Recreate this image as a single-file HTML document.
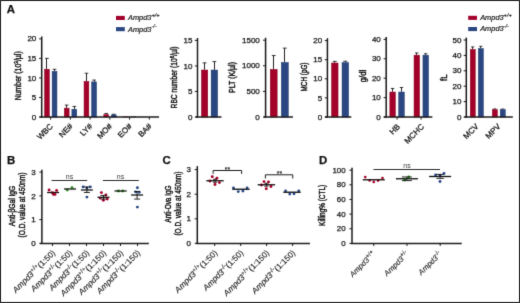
<!DOCTYPE html>
<html><head><meta charset="utf-8"><style>
html,body{margin:0;padding:0;background:#fff;}
svg{display:block;font-family:"Liberation Sans", sans-serif;will-change:transform;}
text{stroke:#111;stroke-width:0.25px;}
text.thin{stroke-width:0.1px;}
text.leg{stroke-width:0.18px;}
text.yl{stroke-width:0.42px;}
text.ns{stroke-width:0;fill:#3a3a3a;}
</style></head><body>
<svg width="520" height="303" viewBox="0 0 520 303" font-family='"Liberation Sans", sans-serif' fill="#111">
<defs><filter id="soft" x="0" y="0" width="520" height="303" filterUnits="userSpaceOnUse"><feConvolveMatrix order="3" kernelMatrix="0.0113 0.0838 0.0113 0.0838 0.6193 0.0838 0.0113 0.0838 0.0113" edgeMode="none"/></filter></defs>
<g filter="url(#soft)">
<rect x="0.5" y="0.5" width="519" height="302" fill="none" stroke="#000" stroke-width="1"/>
<text x="6.70" y="12.70" font-size="11.4" text-anchor="start" font-weight="bold" font-style="normal" >A</text>
<text x="7.10" y="164.00" font-size="11.4" text-anchor="start" font-weight="bold" font-style="normal" >B</text>
<text x="162.50" y="164.10" font-size="11.4" text-anchor="start" font-weight="bold" font-style="normal" >C</text>
<text x="318.90" y="164.00" font-size="11.4" text-anchor="start" font-weight="bold" font-style="normal" >D</text>
<rect x="116.00" y="15.90" width="8.80" height="4.10" fill="#a3002a"/>
<rect x="116.00" y="27.10" width="8.80" height="4.10" fill="#2a4782"/>
<text class="leg" x="128.00" y="20.30" font-size="7.4" font-style="italic">Ampd3<tspan font-size="5.6" dy="-3.3">+/+</tspan></text>
<text class="leg" x="128.00" y="31.50" font-size="7.4" font-style="italic">Ampd3<tspan font-size="5.6" dy="-3.3">-/-</tspan></text>
<rect x="468.20" y="15.80" width="8.80" height="4.10" fill="#a3002a"/>
<rect x="468.20" y="27.00" width="8.80" height="4.10" fill="#2a4782"/>
<text class="leg" x="480.20" y="20.20" font-size="7.4" font-style="italic">Ampd3<tspan font-size="5.6" dy="-3.3">+/+</tspan></text>
<text class="leg" x="480.20" y="31.40" font-size="7.4" font-style="italic">Ampd3<tspan font-size="5.6" dy="-3.3">-/-</tspan></text>
<line x1="46.50" y1="58.39" x2="46.50" y2="68.94" stroke="#1e1e1e" stroke-width="0.95"/>
<line x1="45.15" y1="58.39" x2="48.75" y2="58.39" stroke="#1e1e1e" stroke-width="0.9"/>
<rect x="44.55" y="69.19" width="4.80" height="47.81" fill="#a3002a" stroke="#860020" stroke-width="0.5"/>
<line x1="54.50" y1="69.33" x2="54.50" y2="71.09" stroke="#1e1e1e" stroke-width="0.95"/>
<line x1="52.75" y1="69.33" x2="56.35" y2="69.33" stroke="#1e1e1e" stroke-width="0.9"/>
<rect x="52.15" y="71.34" width="4.80" height="45.66" fill="#2a4782" stroke="#1b3366" stroke-width="0.5"/>
<line x1="66.50" y1="105.08" x2="66.50" y2="107.90" stroke="#1e1e1e" stroke-width="0.95"/>
<line x1="64.90" y1="105.08" x2="68.50" y2="105.08" stroke="#1e1e1e" stroke-width="0.9"/>
<rect x="64.30" y="108.15" width="4.80" height="8.85" fill="#a3002a" stroke="#860020" stroke-width="0.5"/>
<line x1="74.50" y1="106.45" x2="74.50" y2="108.99" stroke="#1e1e1e" stroke-width="0.95"/>
<line x1="72.50" y1="106.45" x2="76.10" y2="106.45" stroke="#1e1e1e" stroke-width="0.9"/>
<rect x="71.90" y="109.24" width="4.80" height="7.76" fill="#2a4782" stroke="#1b3366" stroke-width="0.5"/>
<line x1="86.50" y1="73.24" x2="86.50" y2="81.05" stroke="#1e1e1e" stroke-width="0.95"/>
<line x1="84.65" y1="73.24" x2="88.25" y2="73.24" stroke="#1e1e1e" stroke-width="0.9"/>
<rect x="84.05" y="81.30" width="4.80" height="35.70" fill="#a3002a" stroke="#860020" stroke-width="0.5"/>
<line x1="94.50" y1="80.07" x2="94.50" y2="81.64" stroke="#1e1e1e" stroke-width="0.95"/>
<line x1="92.25" y1="80.07" x2="95.85" y2="80.07" stroke="#1e1e1e" stroke-width="0.9"/>
<rect x="91.65" y="81.89" width="4.80" height="35.11" fill="#2a4782" stroke="#1b3366" stroke-width="0.5"/>
<line x1="106.50" y1="113.48" x2="106.50" y2="114.46" stroke="#1e1e1e" stroke-width="0.95"/>
<line x1="104.40" y1="113.48" x2="108.00" y2="113.48" stroke="#1e1e1e" stroke-width="0.9"/>
<rect x="103.80" y="114.71" width="4.80" height="2.29" fill="#a3002a" stroke="#860020" stroke-width="0.5"/>
<line x1="113.50" y1="114.26" x2="113.50" y2="114.66" stroke="#1e1e1e" stroke-width="0.95"/>
<line x1="112.00" y1="114.26" x2="115.60" y2="114.26" stroke="#1e1e1e" stroke-width="0.9"/>
<rect x="111.40" y="114.91" width="4.80" height="2.09" fill="#2a4782" stroke="#1b3366" stroke-width="0.5"/>
<rect x="123.55" y="116.86" width="4.80" height="0.14" fill="#a3002a" stroke="#860020" stroke-width="0.5"/>
<rect x="131.15" y="116.86" width="4.80" height="0.14" fill="#2a4782" stroke="#1b3366" stroke-width="0.5"/>
<rect x="143.30" y="117.05" width="4.80" height="-0.05" fill="#a3002a" stroke="#860020" stroke-width="0.5"/>
<rect x="150.90" y="117.05" width="4.80" height="-0.05" fill="#2a4782" stroke="#1b3366" stroke-width="0.5"/>
<text transform="translate(53.40,126.90) rotate(-45)" font-size="8.0" text-anchor="end">WBC</text>
<text transform="translate(73.15,126.90) rotate(-45)" font-size="8.0" text-anchor="end">NE#</text>
<text transform="translate(92.90,126.90) rotate(-45)" font-size="8.0" text-anchor="end">LY#</text>
<text transform="translate(112.65,126.90) rotate(-45)" font-size="8.0" text-anchor="end">MO#</text>
<text transform="translate(132.40,126.90) rotate(-45)" font-size="8.0" text-anchor="end">EO#</text>
<text transform="translate(152.15,126.90) rotate(-45)" font-size="8.0" text-anchor="end">BA#</text>
<text class="yl" transform="translate(21.00,75.80) rotate(-90)" font-size="8.9" text-anchor="middle" textLength="49" lengthAdjust="spacingAndGlyphs" >Number (10<tspan font-size='6' dy='-3'>3</tspan><tspan dy='3'>/µl)</tspan></text>
<line x1="204.50" y1="62.87" x2="204.50" y2="69.76" stroke="#1e1e1e" stroke-width="0.95"/>
<line x1="202.70" y1="62.87" x2="206.50" y2="62.87" stroke="#1e1e1e" stroke-width="0.9"/>
<rect x="201.45" y="70.01" width="6.30" height="46.99" fill="#a3002a" stroke="#860020" stroke-width="0.5"/>
<line x1="214.50" y1="61.59" x2="214.50" y2="69.76" stroke="#1e1e1e" stroke-width="0.95"/>
<line x1="212.45" y1="61.59" x2="216.25" y2="61.59" stroke="#1e1e1e" stroke-width="0.9"/>
<rect x="211.15" y="70.01" width="6.40" height="46.99" fill="#2a4782" stroke="#1b3366" stroke-width="0.5"/>
<text class="yl" transform="translate(176.60,77.40) rotate(-90)" font-size="8.9" text-anchor="middle" textLength="62" lengthAdjust="spacingAndGlyphs" >RBC number (10<tspan font-size='6' dy='-3'>6</tspan><tspan dy='3'>/µl)</tspan></text>
<line x1="273.50" y1="55.56" x2="273.50" y2="69.13" stroke="#1e1e1e" stroke-width="0.95"/>
<line x1="271.80" y1="55.56" x2="275.60" y2="55.56" stroke="#1e1e1e" stroke-width="0.9"/>
<rect x="270.25" y="69.38" width="6.90" height="47.62" fill="#a3002a" stroke="#860020" stroke-width="0.5"/>
<line x1="284.50" y1="48.14" x2="284.50" y2="62.22" stroke="#1e1e1e" stroke-width="0.95"/>
<line x1="282.90" y1="48.14" x2="286.70" y2="48.14" stroke="#1e1e1e" stroke-width="0.9"/>
<rect x="281.35" y="62.47" width="6.90" height="54.53" fill="#2a4782" stroke="#1b3366" stroke-width="0.5"/>
<text class="yl" transform="translate(235.20,77.50) rotate(-90)" font-size="8.9" text-anchor="middle" textLength="31" lengthAdjust="spacingAndGlyphs" >PLT (K/µl)</text>
<line x1="334.50" y1="61.42" x2="334.50" y2="62.76" stroke="#1e1e1e" stroke-width="0.95"/>
<line x1="332.90" y1="61.42" x2="336.70" y2="61.42" stroke="#1e1e1e" stroke-width="0.9"/>
<rect x="331.55" y="63.01" width="6.50" height="53.99" fill="#a3002a" stroke="#860020" stroke-width="0.5"/>
<line x1="345.50" y1="61.23" x2="345.50" y2="62.37" stroke="#1e1e1e" stroke-width="0.95"/>
<line x1="343.40" y1="61.23" x2="347.20" y2="61.23" stroke="#1e1e1e" stroke-width="0.9"/>
<rect x="342.05" y="62.62" width="6.50" height="54.38" fill="#2a4782" stroke="#1b3366" stroke-width="0.5"/>
<text class="yl" transform="translate(306.80,77.00) rotate(-90)" font-size="8.9" text-anchor="middle" textLength="29" lengthAdjust="spacingAndGlyphs" >MCH (pG)</text>
<line x1="392.50" y1="88.48" x2="392.50" y2="91.78" stroke="#1e1e1e" stroke-width="0.95"/>
<line x1="390.90" y1="88.48" x2="394.30" y2="88.48" stroke="#1e1e1e" stroke-width="0.9"/>
<rect x="389.85" y="92.03" width="5.50" height="24.97" fill="#a3002a" stroke="#860020" stroke-width="0.5"/>
<line x1="401.50" y1="87.51" x2="401.50" y2="91.78" stroke="#1e1e1e" stroke-width="0.95"/>
<line x1="399.80" y1="87.51" x2="403.20" y2="87.51" stroke="#1e1e1e" stroke-width="0.9"/>
<rect x="398.75" y="92.03" width="5.50" height="24.97" fill="#2a4782" stroke="#1b3366" stroke-width="0.5"/>
<line x1="416.50" y1="52.98" x2="416.50" y2="54.92" stroke="#1e1e1e" stroke-width="0.95"/>
<line x1="415.10" y1="52.98" x2="418.50" y2="52.98" stroke="#1e1e1e" stroke-width="0.9"/>
<rect x="414.05" y="55.17" width="5.50" height="61.83" fill="#a3002a" stroke="#860020" stroke-width="0.5"/>
<line x1="425.50" y1="53.76" x2="425.50" y2="54.92" stroke="#1e1e1e" stroke-width="0.95"/>
<line x1="424.00" y1="53.76" x2="427.40" y2="53.76" stroke="#1e1e1e" stroke-width="0.9"/>
<rect x="422.95" y="55.17" width="5.50" height="61.83" fill="#2a4782" stroke="#1b3366" stroke-width="0.5"/>
<text transform="translate(400.60,127.20) rotate(-45)" font-size="8.0" text-anchor="end">HB</text>
<text transform="translate(424.60,127.20) rotate(-45)" font-size="8.0" text-anchor="end">MCHC</text>
<text class="yl" transform="translate(366.00,76.00) rotate(-90)" font-size="8.9" text-anchor="middle" textLength="12.5" lengthAdjust="spacingAndGlyphs" >g/dl</text>
<line x1="472.50" y1="46.93" x2="472.50" y2="49.24" stroke="#1e1e1e" stroke-width="0.95"/>
<line x1="471.15" y1="46.93" x2="474.35" y2="46.93" stroke="#1e1e1e" stroke-width="0.9"/>
<rect x="470.25" y="49.49" width="5.00" height="67.51" fill="#a3002a" stroke="#860020" stroke-width="0.5"/>
<line x1="480.50" y1="46.31" x2="480.50" y2="48.32" stroke="#1e1e1e" stroke-width="0.95"/>
<line x1="479.25" y1="46.31" x2="482.45" y2="46.31" stroke="#1e1e1e" stroke-width="0.9"/>
<rect x="478.35" y="48.57" width="5.00" height="68.43" fill="#2a4782" stroke="#1b3366" stroke-width="0.5"/>
<line x1="494.50" y1="108.91" x2="494.50" y2="109.45" stroke="#1e1e1e" stroke-width="0.95"/>
<line x1="493.25" y1="108.91" x2="496.45" y2="108.91" stroke="#1e1e1e" stroke-width="0.9"/>
<rect x="492.35" y="109.70" width="5.00" height="7.30" fill="#a3002a" stroke="#860020" stroke-width="0.5"/>
<line x1="502.50" y1="109.07" x2="502.50" y2="109.45" stroke="#1e1e1e" stroke-width="0.95"/>
<line x1="501.15" y1="109.07" x2="504.35" y2="109.07" stroke="#1e1e1e" stroke-width="0.9"/>
<rect x="500.25" y="109.70" width="5.00" height="7.30" fill="#2a4782" stroke="#1b3366" stroke-width="0.5"/>
<text transform="translate(479.00,126.90) rotate(-45)" font-size="8.0" text-anchor="end">MCV</text>
<text transform="translate(501.00,126.90) rotate(-45)" font-size="8.0" text-anchor="end">MPV</text>
<text class="yl" transform="translate(446.90,77.60) rotate(-90)" font-size="8.9" text-anchor="middle" textLength="6.6" lengthAdjust="spacingAndGlyphs" >fL</text>
<text class="yl" transform="translate(15.20,206.00) rotate(-90)" font-size="8.9" text-anchor="middle" textLength="40.5" lengthAdjust="spacingAndGlyphs" >Anti-βGal IgG</text>
<text class="yl" transform="translate(25.40,205.00) rotate(-90)" font-size="8.9" text-anchor="middle" textLength="65" lengthAdjust="spacingAndGlyphs" >(O.D. value at 450nm)</text>
<line x1="51.60" y1="180.50" x2="87.20" y2="180.50" stroke="#2a2a2a" stroke-width="1.0"/>
<text x="69.50" y="179.00" font-size="7.0" text-anchor="middle" font-weight="normal" font-style="normal" class="ns">ns</text>
<line x1="102.90" y1="180.50" x2="138.80" y2="180.50" stroke="#2a2a2a" stroke-width="1.0"/>
<text x="120.50" y="179.00" font-size="7.0" text-anchor="middle" font-weight="normal" font-style="normal" class="ns">ns</text>
<circle cx="49.10" cy="190.00" r="1.45" fill="#a3002a"/>
<circle cx="53.50" cy="194.40" r="1.45" fill="#a3002a"/>
<circle cx="55.00" cy="194.40" r="1.45" fill="#a3002a"/>
<circle cx="56.60" cy="190.40" r="1.45" fill="#a3002a"/>
<circle cx="52.30" cy="192.80" r="1.45" fill="#a3002a"/>
<line x1="47.10" y1="192.50" x2="59.10" y2="192.50" stroke="#111" stroke-width="1.3"/>
<circle cx="67.30" cy="190.00" r="1.45" fill="#2c8a1c"/>
<circle cx="72.00" cy="187.60" r="1.45" fill="#2c8a1c"/>
<line x1="64.00" y1="189.00" x2="76.00" y2="189.00" stroke="#111" stroke-width="1.3"/>
<circle cx="83.10" cy="186.90" r="1.45" fill="#2a4782"/>
<circle cx="86.90" cy="188.10" r="1.45" fill="#2a4782"/>
<circle cx="90.30" cy="186.90" r="1.45" fill="#2a4782"/>
<circle cx="86.90" cy="197.10" r="1.45" fill="#2a4782"/>
<line x1="80.90" y1="190.00" x2="92.90" y2="190.00" stroke="#111" stroke-width="1.3"/>
<line x1="86.90" y1="186.90" x2="86.90" y2="192.50" stroke="#111" stroke-width="0.9"/>
<line x1="83.90" y1="186.90" x2="89.90" y2="186.90" stroke="#111" stroke-width="0.9"/>
<line x1="83.90" y1="192.50" x2="89.90" y2="192.50" stroke="#111" stroke-width="0.9"/>
<circle cx="101.40" cy="192.60" r="1.45" fill="#a3002a"/>
<circle cx="105.90" cy="195.00" r="1.45" fill="#a3002a"/>
<circle cx="100.10" cy="198.10" r="1.45" fill="#a3002a"/>
<circle cx="103.40" cy="200.20" r="1.45" fill="#a3002a"/>
<circle cx="107.30" cy="199.10" r="1.45" fill="#a3002a"/>
<line x1="97.50" y1="197.30" x2="109.50" y2="197.30" stroke="#111" stroke-width="1.3"/>
<line x1="103.50" y1="195.40" x2="103.50" y2="199.10" stroke="#111" stroke-width="0.9"/>
<line x1="100.50" y1="195.40" x2="106.50" y2="195.40" stroke="#111" stroke-width="0.9"/>
<line x1="100.50" y1="199.10" x2="106.50" y2="199.10" stroke="#111" stroke-width="0.9"/>
<circle cx="118.40" cy="191.00" r="1.45" fill="#2c8a1c"/>
<circle cx="122.60" cy="191.00" r="1.45" fill="#2c8a1c"/>
<line x1="114.60" y1="191.00" x2="126.60" y2="191.00" stroke="#111" stroke-width="1.3"/>
<circle cx="137.40" cy="187.70" r="1.45" fill="#2a4782"/>
<circle cx="135.70" cy="191.90" r="1.45" fill="#2a4782"/>
<circle cx="139.20" cy="192.20" r="1.45" fill="#2a4782"/>
<circle cx="137.40" cy="207.10" r="1.45" fill="#2a4782"/>
<line x1="131.10" y1="195.00" x2="143.10" y2="195.00" stroke="#111" stroke-width="1.3"/>
<line x1="137.10" y1="191.50" x2="137.10" y2="199.10" stroke="#111" stroke-width="0.9"/>
<line x1="134.10" y1="191.50" x2="140.10" y2="191.50" stroke="#111" stroke-width="0.9"/>
<line x1="134.10" y1="199.10" x2="140.10" y2="199.10" stroke="#111" stroke-width="0.9"/>
<text class="thin" transform="translate(55.80,253.40) rotate(-45)" font-size="8.2" text-anchor="end"><tspan font-style="italic">Ampd3</tspan><tspan font-size="6.2" dy="-3.1">+/+</tspan><tspan dy="3.1">(1:50)</tspan></text>
<text class="thin" transform="translate(72.80,253.40) rotate(-45)" font-size="8.2" text-anchor="end"><tspan font-style="italic">Ampd3</tspan><tspan font-size="6.2" dy="-3.1">+/-</tspan><tspan dy="3.1">(1:50)</tspan></text>
<text class="thin" transform="translate(89.80,253.40) rotate(-45)" font-size="8.2" text-anchor="end"><tspan font-style="italic">Ampd3</tspan><tspan font-size="6.2" dy="-3.1">-/-</tspan><tspan dy="3.1">(1:50)</tspan></text>
<text class="thin" transform="translate(106.80,253.40) rotate(-45)" font-size="8.2" text-anchor="end"><tspan font-style="italic">Ampd3</tspan><tspan font-size="6.2" dy="-3.1">+/+</tspan><tspan dy="3.1">(1:150)</tspan></text>
<text class="thin" transform="translate(123.80,253.40) rotate(-45)" font-size="8.2" text-anchor="end"><tspan font-style="italic">Ampd3</tspan><tspan font-size="6.2" dy="-3.1">+/-</tspan><tspan dy="3.1">(1:150)</tspan></text>
<text class="thin" transform="translate(140.80,253.40) rotate(-45)" font-size="8.2" text-anchor="end"><tspan font-style="italic">Ampd3</tspan><tspan font-size="6.2" dy="-3.1">-/-</tspan><tspan dy="3.1">(1:150)</tspan></text>
<text class="yl" transform="translate(170.60,204.00) rotate(-90)" font-size="8.9" text-anchor="middle" textLength="37" lengthAdjust="spacingAndGlyphs" >Anti-Ova IgG</text>
<text class="yl" transform="translate(180.80,203.60) rotate(-90)" font-size="8.9" text-anchor="middle" textLength="64" lengthAdjust="spacingAndGlyphs" >(O.D. value at 450nm)</text>
<polyline points="213.1,173.9 213.1,170.5 241.6,170.5 241.6,173.9" fill="none" stroke="#222" stroke-width="1"/>
<text x="227.40" y="171.60" font-size="6.8" text-anchor="middle" font-weight="normal" font-style="normal" class="thin">**</text>
<polyline points="265.4,178.5 265.4,174.8 292.75,174.8 292.75,178.5" fill="none" stroke="#222" stroke-width="1"/>
<text x="279.40" y="175.90" font-size="6.8" text-anchor="middle" font-weight="normal" font-style="normal" class="thin">**</text>
<circle cx="212.25" cy="176.75" r="1.45" fill="#a3002a"/>
<circle cx="216.90" cy="178.25" r="1.45" fill="#a3002a"/>
<circle cx="210.00" cy="181.00" r="1.45" fill="#a3002a"/>
<circle cx="219.40" cy="182.60" r="1.45" fill="#a3002a"/>
<circle cx="215.00" cy="184.50" r="1.45" fill="#a3002a"/>
<line x1="206.30" y1="180.75" x2="223.70" y2="180.75" stroke="#111" stroke-width="1.3"/>
<line x1="215.00" y1="179.30" x2="215.00" y2="182.30" stroke="#111" stroke-width="0.9"/>
<line x1="213.00" y1="179.30" x2="217.00" y2="179.30" stroke="#111" stroke-width="0.9"/>
<line x1="213.00" y1="182.30" x2="217.00" y2="182.30" stroke="#111" stroke-width="0.9"/>
<circle cx="233.50" cy="187.90" r="1.45" fill="#2a4782"/>
<circle cx="238.25" cy="191.60" r="1.45" fill="#2a4782"/>
<circle cx="242.90" cy="191.00" r="1.45" fill="#2a4782"/>
<circle cx="247.10" cy="187.90" r="1.45" fill="#2a4782"/>
<line x1="232.30" y1="189.25" x2="249.70" y2="189.25" stroke="#111" stroke-width="1.3"/>
<circle cx="264.00" cy="181.60" r="1.45" fill="#a3002a"/>
<circle cx="268.50" cy="181.90" r="1.45" fill="#a3002a"/>
<circle cx="261.50" cy="185.00" r="1.45" fill="#a3002a"/>
<circle cx="271.00" cy="186.50" r="1.45" fill="#a3002a"/>
<circle cx="266.25" cy="188.75" r="1.45" fill="#a3002a"/>
<line x1="257.70" y1="184.75" x2="275.10" y2="184.75" stroke="#111" stroke-width="1.3"/>
<line x1="266.40" y1="183.30" x2="266.40" y2="186.20" stroke="#111" stroke-width="0.9"/>
<line x1="264.40" y1="183.30" x2="268.40" y2="183.30" stroke="#111" stroke-width="0.9"/>
<line x1="264.40" y1="186.20" x2="268.40" y2="186.20" stroke="#111" stroke-width="0.9"/>
<circle cx="285.60" cy="191.00" r="1.45" fill="#2a4782"/>
<circle cx="289.75" cy="194.10" r="1.45" fill="#2a4782"/>
<circle cx="294.00" cy="193.75" r="1.45" fill="#2a4782"/>
<circle cx="298.75" cy="191.00" r="1.45" fill="#2a4782"/>
<line x1="283.30" y1="192.25" x2="300.70" y2="192.25" stroke="#111" stroke-width="1.3"/>
<text class="thin" transform="translate(217.90,253.40) rotate(-45)" font-size="8.2" text-anchor="end"><tspan font-style="italic">Ampd3</tspan><tspan font-size="6.2" dy="-3.1">+/+</tspan><tspan dy="3.1">(1:50)</tspan></text>
<text class="thin" transform="translate(243.90,253.40) rotate(-45)" font-size="8.2" text-anchor="end"><tspan font-style="italic">Ampd3</tspan><tspan font-size="6.2" dy="-3.1">-/-</tspan><tspan dy="3.1">(1:50)</tspan></text>
<text class="thin" transform="translate(269.80,253.40) rotate(-45)" font-size="8.2" text-anchor="end"><tspan font-style="italic">Ampd3</tspan><tspan font-size="6.2" dy="-3.1">+/+</tspan><tspan dy="3.1">(1:150)</tspan></text>
<text class="thin" transform="translate(295.80,253.40) rotate(-45)" font-size="8.2" text-anchor="end"><tspan font-style="italic">Ampd3</tspan><tspan font-size="6.2" dy="-3.1">-/-</tspan><tspan dy="3.1">(1:150)</tspan></text>
<text class="yl" transform="translate(325.00,205.40) rotate(-90)" font-size="8.9" text-anchor="middle" textLength="41" lengthAdjust="spacingAndGlyphs" >Killing% (CTL)</text>
<line x1="373.50" y1="169.50" x2="440.00" y2="169.50" stroke="#2a2a2a" stroke-width="1.0"/>
<text x="407.00" y="167.50" font-size="7.0" text-anchor="middle" font-weight="normal" font-style="normal" class="ns">ns</text>
<circle cx="365.25" cy="177.10" r="1.3" fill="#a3002a"/>
<circle cx="369.60" cy="180.40" r="1.3" fill="#a3002a"/>
<circle cx="373.75" cy="181.90" r="1.3" fill="#a3002a"/>
<circle cx="378.10" cy="180.60" r="1.3" fill="#a3002a"/>
<circle cx="382.50" cy="178.10" r="1.3" fill="#a3002a"/>
<line x1="362.75" y1="179.75" x2="384.75" y2="179.75" stroke="#111" stroke-width="1.3"/>
<circle cx="404.75" cy="180.00" r="1.45" fill="#2c8a1c"/>
<circle cx="408.75" cy="176.90" r="1.45" fill="#2c8a1c"/>
<line x1="395.90" y1="178.75" x2="417.90" y2="178.75" stroke="#111" stroke-width="1.3"/>
<line x1="406.90" y1="176.90" x2="406.90" y2="180.60" stroke="#111" stroke-width="0.9"/>
<line x1="401.90" y1="176.90" x2="411.90" y2="176.90" stroke="#111" stroke-width="0.9"/>
<line x1="401.90" y1="180.60" x2="411.90" y2="180.60" stroke="#111" stroke-width="0.9"/>
<circle cx="435.60" cy="175.00" r="1.45" fill="#2a4782"/>
<circle cx="440.00" cy="175.40" r="1.45" fill="#2a4782"/>
<circle cx="444.00" cy="173.50" r="1.45" fill="#2a4782"/>
<circle cx="440.00" cy="181.50" r="1.45" fill="#2a4782"/>
<line x1="429.10" y1="176.50" x2="451.10" y2="176.50" stroke="#111" stroke-width="1.3"/>
<line x1="440.10" y1="174.40" x2="440.10" y2="178.40" stroke="#111" stroke-width="0.9"/>
<line x1="436.30" y1="174.40" x2="443.90" y2="174.40" stroke="#111" stroke-width="0.9"/>
<line x1="436.30" y1="178.40" x2="443.90" y2="178.40" stroke="#111" stroke-width="0.9"/>
<text class="thin" transform="translate(375.95,254.40) rotate(-45)" font-size="7.6" text-anchor="end"><tspan font-style="italic">Ampd3</tspan><tspan font-size="6.0" dy="-3.0">+/+</tspan></text>
<text class="thin" transform="translate(409.20,254.40) rotate(-45)" font-size="7.6" text-anchor="end"><tspan font-style="italic">Ampd3</tspan><tspan font-size="6.0" dy="-3.0">+/-</tspan></text>
<text class="thin" transform="translate(442.40,254.40) rotate(-45)" font-size="7.6" text-anchor="end"><tspan font-style="italic">Ampd3</tspan><tspan font-size="6.0" dy="-3.0">-/-</tspan></text>
<line x1="41.70" y1="36.45" x2="41.70" y2="117.50" stroke="#1a1a1a" stroke-width="1.5"/>
<line x1="39.10" y1="117.00" x2="41.70" y2="117.00" stroke="#1a1a1a" stroke-width="1.0"/>
<text x="36.30" y="119.60" font-size="8.0" text-anchor="end" font-weight="normal" font-style="normal" >0</text>
<line x1="39.10" y1="97.46" x2="41.70" y2="97.46" stroke="#1a1a1a" stroke-width="1.0"/>
<text x="36.30" y="100.06" font-size="8.0" text-anchor="end" font-weight="normal" font-style="normal" >5</text>
<line x1="39.10" y1="77.92" x2="41.70" y2="77.92" stroke="#1a1a1a" stroke-width="1.0"/>
<text x="36.30" y="80.52" font-size="8.0" text-anchor="end" font-weight="normal" font-style="normal" >10</text>
<line x1="39.10" y1="58.39" x2="41.70" y2="58.39" stroke="#1a1a1a" stroke-width="1.0"/>
<text x="36.30" y="60.99" font-size="8.0" text-anchor="end" font-weight="normal" font-style="normal" >15</text>
<line x1="39.10" y1="38.85" x2="41.70" y2="38.85" stroke="#1a1a1a" stroke-width="1.0"/>
<text x="36.30" y="41.45" font-size="8.0" text-anchor="end" font-weight="normal" font-style="normal" >20</text>
<line x1="39.60" y1="117.00" x2="159.00" y2="117.00" stroke="#1a1a1a" stroke-width="1.5"/>
<line x1="50.60" y1="117.00" x2="50.60" y2="119.60" stroke="#1a1a1a" stroke-width="1.0"/>
<line x1="70.35" y1="117.00" x2="70.35" y2="119.60" stroke="#1a1a1a" stroke-width="1.0"/>
<line x1="90.10" y1="117.00" x2="90.10" y2="119.60" stroke="#1a1a1a" stroke-width="1.0"/>
<line x1="109.85" y1="117.00" x2="109.85" y2="119.60" stroke="#1a1a1a" stroke-width="1.0"/>
<line x1="129.60" y1="117.00" x2="129.60" y2="119.60" stroke="#1a1a1a" stroke-width="1.0"/>
<line x1="149.35" y1="117.00" x2="149.35" y2="119.60" stroke="#1a1a1a" stroke-width="1.0"/>
<line x1="197.50" y1="37.99" x2="197.50" y2="117.50" stroke="#1a1a1a" stroke-width="1.5"/>
<line x1="194.90" y1="117.00" x2="197.50" y2="117.00" stroke="#1a1a1a" stroke-width="1.0"/>
<text x="192.40" y="119.60" font-size="8.0" text-anchor="end" font-weight="normal" font-style="normal" >0</text>
<line x1="194.90" y1="91.47" x2="197.50" y2="91.47" stroke="#1a1a1a" stroke-width="1.0"/>
<text x="192.40" y="94.06" font-size="8.0" text-anchor="end" font-weight="normal" font-style="normal" >5</text>
<line x1="194.90" y1="65.93" x2="197.50" y2="65.93" stroke="#1a1a1a" stroke-width="1.0"/>
<text x="192.40" y="68.53" font-size="8.0" text-anchor="end" font-weight="normal" font-style="normal" >10</text>
<line x1="194.90" y1="40.39" x2="197.50" y2="40.39" stroke="#1a1a1a" stroke-width="1.0"/>
<text x="192.40" y="42.99" font-size="8.0" text-anchor="end" font-weight="normal" font-style="normal" >15</text>
<line x1="195.50" y1="117.00" x2="221.50" y2="117.00" stroke="#1a1a1a" stroke-width="1.5"/>
<line x1="265.60" y1="37.80" x2="265.60" y2="117.50" stroke="#1a1a1a" stroke-width="1.5"/>
<line x1="263.00" y1="117.00" x2="265.60" y2="117.00" stroke="#1a1a1a" stroke-width="1.0"/>
<text x="259.80" y="119.60" font-size="8.0" text-anchor="end" font-weight="normal" font-style="normal" >0</text>
<line x1="263.00" y1="91.40" x2="265.60" y2="91.40" stroke="#1a1a1a" stroke-width="1.0"/>
<text x="259.80" y="94.00" font-size="8.0" text-anchor="end" font-weight="normal" font-style="normal" >500</text>
<line x1="263.00" y1="65.80" x2="265.60" y2="65.80" stroke="#1a1a1a" stroke-width="1.0"/>
<text x="259.80" y="68.40" font-size="8.0" text-anchor="end" font-weight="normal" font-style="normal" >1000</text>
<line x1="263.00" y1="40.20" x2="265.60" y2="40.20" stroke="#1a1a1a" stroke-width="1.0"/>
<text x="259.80" y="42.80" font-size="8.0" text-anchor="end" font-weight="normal" font-style="normal" >1500</text>
<line x1="263.80" y1="117.00" x2="293.00" y2="117.00" stroke="#1a1a1a" stroke-width="1.5"/>
<line x1="327.40" y1="38.20" x2="327.40" y2="117.50" stroke="#1a1a1a" stroke-width="1.5"/>
<line x1="324.80" y1="117.00" x2="327.40" y2="117.00" stroke="#1a1a1a" stroke-width="1.0"/>
<text x="322.20" y="119.60" font-size="8.0" text-anchor="end" font-weight="normal" font-style="normal" >0</text>
<line x1="324.80" y1="97.90" x2="327.40" y2="97.90" stroke="#1a1a1a" stroke-width="1.0"/>
<text x="322.20" y="100.50" font-size="8.0" text-anchor="end" font-weight="normal" font-style="normal" >5</text>
<line x1="324.80" y1="78.80" x2="327.40" y2="78.80" stroke="#1a1a1a" stroke-width="1.0"/>
<text x="322.20" y="81.40" font-size="8.0" text-anchor="end" font-weight="normal" font-style="normal" >10</text>
<line x1="324.80" y1="59.70" x2="327.40" y2="59.70" stroke="#1a1a1a" stroke-width="1.0"/>
<text x="322.20" y="62.30" font-size="8.0" text-anchor="end" font-weight="normal" font-style="normal" >15</text>
<line x1="324.80" y1="40.60" x2="327.40" y2="40.60" stroke="#1a1a1a" stroke-width="1.0"/>
<text x="322.20" y="43.20" font-size="8.0" text-anchor="end" font-weight="normal" font-style="normal" >20</text>
<line x1="325.00" y1="117.00" x2="351.30" y2="117.00" stroke="#1a1a1a" stroke-width="1.5"/>
<line x1="386.20" y1="37.00" x2="386.20" y2="117.50" stroke="#1a1a1a" stroke-width="1.5"/>
<line x1="383.60" y1="117.00" x2="386.20" y2="117.00" stroke="#1a1a1a" stroke-width="1.0"/>
<text x="380.80" y="119.60" font-size="8.0" text-anchor="end" font-weight="normal" font-style="normal" >0</text>
<line x1="383.60" y1="97.60" x2="386.20" y2="97.60" stroke="#1a1a1a" stroke-width="1.0"/>
<text x="380.80" y="100.20" font-size="8.0" text-anchor="end" font-weight="normal" font-style="normal" >10</text>
<line x1="383.60" y1="78.20" x2="386.20" y2="78.20" stroke="#1a1a1a" stroke-width="1.0"/>
<text x="380.80" y="80.80" font-size="8.0" text-anchor="end" font-weight="normal" font-style="normal" >20</text>
<line x1="383.60" y1="58.80" x2="386.20" y2="58.80" stroke="#1a1a1a" stroke-width="1.0"/>
<text x="380.80" y="61.40" font-size="8.0" text-anchor="end" font-weight="normal" font-style="normal" >30</text>
<line x1="383.60" y1="39.40" x2="386.20" y2="39.40" stroke="#1a1a1a" stroke-width="1.0"/>
<text x="380.80" y="42.00" font-size="8.0" text-anchor="end" font-weight="normal" font-style="normal" >40</text>
<line x1="383.80" y1="117.00" x2="432.30" y2="117.00" stroke="#1a1a1a" stroke-width="1.5"/>
<line x1="397.10" y1="117.00" x2="397.10" y2="119.60" stroke="#1a1a1a" stroke-width="1.0"/>
<line x1="421.10" y1="117.00" x2="421.10" y2="119.60" stroke="#1a1a1a" stroke-width="1.0"/>
<line x1="466.30" y1="37.60" x2="466.30" y2="117.50" stroke="#1a1a1a" stroke-width="1.5"/>
<line x1="463.70" y1="117.00" x2="466.30" y2="117.00" stroke="#1a1a1a" stroke-width="1.0"/>
<text x="461.40" y="119.60" font-size="8.0" text-anchor="end" font-weight="normal" font-style="normal" >0</text>
<line x1="463.70" y1="101.60" x2="466.30" y2="101.60" stroke="#1a1a1a" stroke-width="1.0"/>
<text x="461.40" y="104.20" font-size="8.0" text-anchor="end" font-weight="normal" font-style="normal" >10</text>
<line x1="463.70" y1="86.20" x2="466.30" y2="86.20" stroke="#1a1a1a" stroke-width="1.0"/>
<text x="461.40" y="88.80" font-size="8.0" text-anchor="end" font-weight="normal" font-style="normal" >20</text>
<line x1="463.70" y1="70.80" x2="466.30" y2="70.80" stroke="#1a1a1a" stroke-width="1.0"/>
<text x="461.40" y="73.40" font-size="8.0" text-anchor="end" font-weight="normal" font-style="normal" >30</text>
<line x1="463.70" y1="55.40" x2="466.30" y2="55.40" stroke="#1a1a1a" stroke-width="1.0"/>
<text x="461.40" y="58.00" font-size="8.0" text-anchor="end" font-weight="normal" font-style="normal" >40</text>
<line x1="463.70" y1="40.00" x2="466.30" y2="40.00" stroke="#1a1a1a" stroke-width="1.0"/>
<text x="461.40" y="42.60" font-size="8.0" text-anchor="end" font-weight="normal" font-style="normal" >50</text>
<line x1="464.30" y1="117.00" x2="512.80" y2="117.00" stroke="#1a1a1a" stroke-width="1.5"/>
<line x1="41.90" y1="169.75" x2="41.90" y2="243.90" stroke="#1a1a1a" stroke-width="1.5"/>
<line x1="39.30" y1="243.40" x2="41.90" y2="243.40" stroke="#1a1a1a" stroke-width="1.0"/>
<text x="35.60" y="246.00" font-size="8.0" text-anchor="end" font-weight="normal" font-style="normal" >0</text>
<line x1="39.30" y1="219.65" x2="41.90" y2="219.65" stroke="#1a1a1a" stroke-width="1.0"/>
<text x="35.60" y="222.25" font-size="8.0" text-anchor="end" font-weight="normal" font-style="normal" >1</text>
<line x1="39.30" y1="195.90" x2="41.90" y2="195.90" stroke="#1a1a1a" stroke-width="1.0"/>
<text x="35.60" y="198.50" font-size="8.0" text-anchor="end" font-weight="normal" font-style="normal" >2</text>
<line x1="39.30" y1="172.15" x2="41.90" y2="172.15" stroke="#1a1a1a" stroke-width="1.0"/>
<text x="35.60" y="174.75" font-size="8.0" text-anchor="end" font-weight="normal" font-style="normal" >3</text>
<line x1="40.00" y1="243.40" x2="148.80" y2="243.40" stroke="#1a1a1a" stroke-width="1.5"/>
<line x1="52.50" y1="243.40" x2="52.50" y2="246.00" stroke="#1a1a1a" stroke-width="1.0"/>
<line x1="69.50" y1="243.40" x2="69.50" y2="246.00" stroke="#1a1a1a" stroke-width="1.0"/>
<line x1="86.50" y1="243.40" x2="86.50" y2="246.00" stroke="#1a1a1a" stroke-width="1.0"/>
<line x1="103.50" y1="243.40" x2="103.50" y2="246.00" stroke="#1a1a1a" stroke-width="1.0"/>
<line x1="120.50" y1="243.40" x2="120.50" y2="246.00" stroke="#1a1a1a" stroke-width="1.0"/>
<line x1="137.50" y1="243.40" x2="137.50" y2="246.00" stroke="#1a1a1a" stroke-width="1.0"/>
<line x1="197.30" y1="166.10" x2="197.30" y2="243.90" stroke="#1a1a1a" stroke-width="1.5"/>
<line x1="194.70" y1="243.40" x2="197.30" y2="243.40" stroke="#1a1a1a" stroke-width="1.0"/>
<text x="191.00" y="246.00" font-size="8.0" text-anchor="end" font-weight="normal" font-style="normal" >0</text>
<line x1="194.70" y1="218.80" x2="197.30" y2="218.80" stroke="#1a1a1a" stroke-width="1.0"/>
<text x="191.00" y="221.40" font-size="8.0" text-anchor="end" font-weight="normal" font-style="normal" >1</text>
<line x1="194.70" y1="194.20" x2="197.30" y2="194.20" stroke="#1a1a1a" stroke-width="1.0"/>
<text x="191.00" y="196.80" font-size="8.0" text-anchor="end" font-weight="normal" font-style="normal" >2</text>
<line x1="194.70" y1="169.60" x2="197.30" y2="169.60" stroke="#1a1a1a" stroke-width="1.0"/>
<text x="191.00" y="172.20" font-size="8.0" text-anchor="end" font-weight="normal" font-style="normal" >3</text>
<line x1="196.30" y1="243.40" x2="309.90" y2="243.40" stroke="#1a1a1a" stroke-width="1.5"/>
<line x1="214.70" y1="243.40" x2="214.70" y2="246.00" stroke="#1a1a1a" stroke-width="1.0"/>
<line x1="240.70" y1="243.40" x2="240.70" y2="246.00" stroke="#1a1a1a" stroke-width="1.0"/>
<line x1="266.60" y1="243.40" x2="266.60" y2="246.00" stroke="#1a1a1a" stroke-width="1.0"/>
<line x1="292.60" y1="243.40" x2="292.60" y2="246.00" stroke="#1a1a1a" stroke-width="1.0"/>
<line x1="352.00" y1="167.75" x2="352.00" y2="243.90" stroke="#1a1a1a" stroke-width="1.5"/>
<line x1="349.40" y1="243.40" x2="352.00" y2="243.40" stroke="#1a1a1a" stroke-width="1.0"/>
<text x="345.60" y="246.00" font-size="7.9" text-anchor="end" font-weight="normal" font-style="normal" >0</text>
<line x1="349.40" y1="228.75" x2="352.00" y2="228.75" stroke="#1a1a1a" stroke-width="1.0"/>
<text x="345.60" y="231.35" font-size="7.9" text-anchor="end" font-weight="normal" font-style="normal" >20</text>
<line x1="349.40" y1="214.10" x2="352.00" y2="214.10" stroke="#1a1a1a" stroke-width="1.0"/>
<text x="345.60" y="216.70" font-size="7.9" text-anchor="end" font-weight="normal" font-style="normal" >40</text>
<line x1="349.40" y1="199.45" x2="352.00" y2="199.45" stroke="#1a1a1a" stroke-width="1.0"/>
<text x="345.60" y="202.05" font-size="7.9" text-anchor="end" font-weight="normal" font-style="normal" >60</text>
<line x1="349.40" y1="184.80" x2="352.00" y2="184.80" stroke="#1a1a1a" stroke-width="1.0"/>
<text x="345.60" y="187.40" font-size="7.9" text-anchor="end" font-weight="normal" font-style="normal" >80</text>
<line x1="349.40" y1="170.15" x2="352.00" y2="170.15" stroke="#1a1a1a" stroke-width="1.0"/>
<text x="345.60" y="172.75" font-size="7.9" text-anchor="end" font-weight="normal" font-style="normal" >100</text>
<line x1="351.20" y1="243.40" x2="461.70" y2="243.40" stroke="#1a1a1a" stroke-width="1.5"/>
<line x1="373.75" y1="243.40" x2="373.75" y2="246.00" stroke="#1a1a1a" stroke-width="1.0"/>
<line x1="407.00" y1="243.40" x2="407.00" y2="246.00" stroke="#1a1a1a" stroke-width="1.0"/>
<line x1="440.20" y1="243.40" x2="440.20" y2="246.00" stroke="#1a1a1a" stroke-width="1.0"/>
</g>
</svg>
</body></html>
